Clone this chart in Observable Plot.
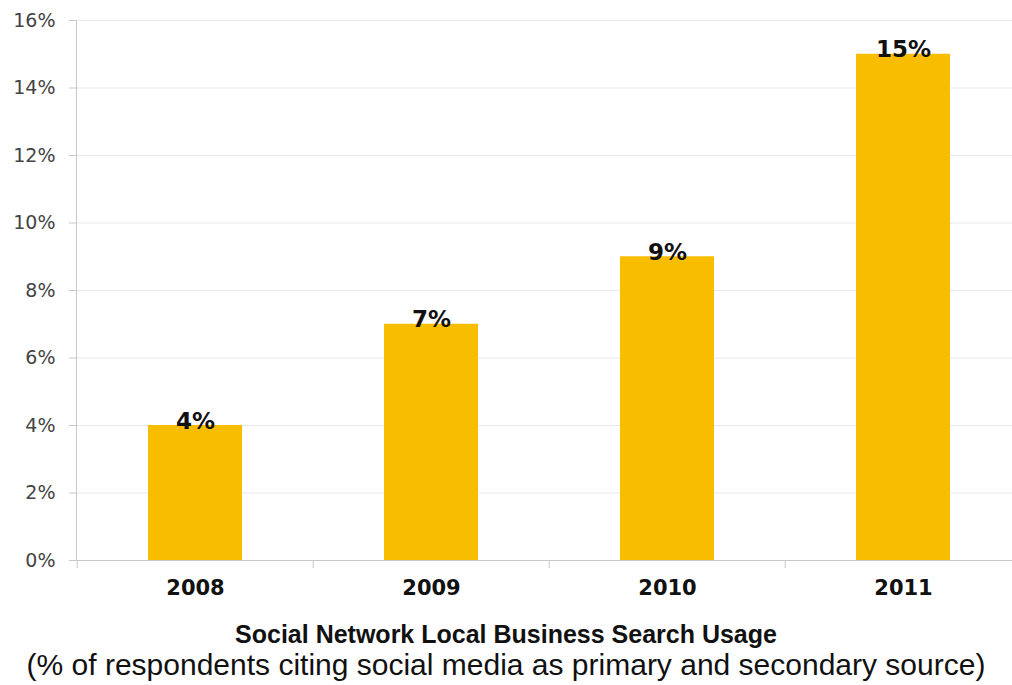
<!DOCTYPE html>
<html>
<head>
<meta charset="utf-8">
<script src="https://cdn.jsdelivr.net/npm/d3@7"></script>
<script src="https://cdn.jsdelivr.net/npm/@observablehq/plot@0.6"></script>
<style>
  body { margin: 0; background: #fff; width: 1012px; overflow: hidden; }
  #chart svg { display: block; }
  .title { text-align: center; font-family: "Liberation Sans", Arial, sans-serif; font-weight: bold; font-size: 25px; line-height: 30px; color: #111; margin-top: 9px; white-space: nowrap; }
  .subtitle { text-align: center; font-family: "Liberation Sans", Arial, sans-serif; font-size: 30px; line-height: 32px; color: #111; white-space: nowrap; }
</style>
</head>
<body>
<div id="chart"></div>
<div class="title">Social Network Local Business Search Usage</div>
<div class="subtitle">(% of respondents citing social media as primary and secondary source)</div>
<script>
const years = ["2008", "2009", "2010", "2011"];
const usage = [4, 7, 9, 15];
const yTicks = [0, 2, 4, 6, 8, 10, 12, 14, 16];

const data = years.map((y, i) => ({year: y, value: usage[i]}));
const step = (1022 - 76) / years.length;

const chart = Plot.plot({
  width: 1012,
  height: 610,
  marginLeft: 76,
  marginRight: 0,
  marginTop: 20,
  marginBottom: 50,
  style: {fontFamily: "DejaVu Sans, Verdana, sans-serif", background: "#fff"},
  x: {domain: years, range: [76, 1022], paddingInner: 0.6, paddingOuter: 0.3, label: null},
  y: {domain: [0, 16], label: null},
  marks: [
    Plot.gridY(yTicks, {stroke: "#e9e9e9", strokeOpacity: 1}),
    Plot.frame({anchor: "left", stroke: "#c8c8c8"}),
    Plot.ruleY([0], {stroke: "#c8c8c8"}),
    Plot.axisY({ticks: yTicks, tickFormat: d => d + "%", tickSize: 7, tickPadding: 14, fontSize: 19, stroke: "#c8c8c8", fill: "#444", label: null}),
    Plot.axisX({tickSize: 8, text: null, stroke: "#c8c8c8", dx: -step / 2}),
    Plot.axisX({tickSize: 0, tickPadding: 20, fontSize: 21, fontWeight: "bold", fill: "#111", label: null}),
    Plot.barY(data, {x: "year", y: "value", fill: "#f9bd00"}),
    Plot.text(data, {x: "year", y: "value", text: d => d.value + "%", lineAnchor: "bottom", dy: 3, fontSize: 23, fontWeight: "bold", fill: "#111"})
  ]
});
document.getElementById("chart").appendChild(chart);
</script>
</body>
</html>
